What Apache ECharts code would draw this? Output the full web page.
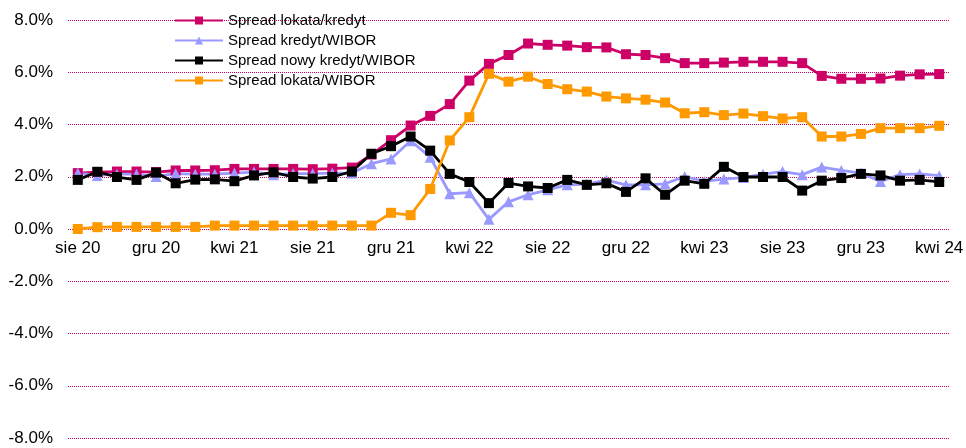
<!DOCTYPE html>
<html>
<head>
<meta charset="utf-8">
<script src="https://cdn.jsdelivr.net/npm/echarts@6/dist/echarts.min.js"></script>
<style>
	html, body { margin: 0; padding: 0; background: #fff; }
	#main { width: 966px; height: 448px; }
</style>
</head>
<body>
<div id="main"></div>
<script>
// miesiace sie 2020 - kwi 2024
var months = [
	'sie 20','wrz 20','paź 20','lis 20','gru 20',
	'sty 21','lut 21','mar 21','kwi 21','maj 21','cze 21','lip 21','sie 21','wrz 21','paź 21','lis 21','gru 21',
	'sty 22','lut 22','mar 22','kwi 22','maj 22','cze 22','lip 22','sie 22','wrz 22','paź 22','lis 22','gru 22',
	'sty 23','lut 23','mar 23','kwi 23','maj 23','cze 23','lip 23','sie 23','wrz 23','paź 23','lis 23','gru 23',
	'sty 24','lut 24','mar 24','kwi 24'
];

var names = ['Spread lokata/kredyt', 'Spread kredyt/WIBOR', 'Spread nowy kredyt/WIBOR', 'Spread lokata/WIBOR'];

var lokataKredyt = [2.14, 2.18, 2.2, 2.2, 2.18, 2.24, 2.24, 2.25, 2.3, 2.3, 2.3, 2.3, 2.29, 2.31, 2.35, 2.85, 3.4,
	3.96, 4.33, 4.78, 5.68, 6.32, 6.66, 7.1, 7.05, 7.02, 6.96, 6.95, 6.69,
	6.66, 6.54, 6.35, 6.35, 6.37, 6.4, 6.4, 6.4, 6.35, 5.86, 5.75, 5.75,
	5.76, 5.87, 5.92, 5.93];

var kredytWibor = [2.14, 2.05, 2.1, 2.1, 2.01, 2.12, 2.1, 2.1, 2.14, 2.18, 2.08, 2.12, 2.12, 2.14, 2.14, 2.5, 2.68,
	3.38, 2.75, 1.35, 1.39, 0.37, 1.04, 1.31, 1.5, 1.69, 1.72, 1.87, 1.69,
	1.69, 1.73, 2.01, 1.82, 1.91, 1.97, 2.1, 2.2, 2.08, 2.37, 2.24, 2.14,
	1.82, 2.08, 2.11, 2.04];

var nowyKredytWibor = [1.88, 2.19, 1.99, 1.88, 2.16, 1.75, 1.89, 1.9, 1.83, 2.05, 2.17, 1.99, 1.93, 1.99, 2.2, 2.88, 3.17,
	3.54, 3.0, 2.11, 1.8, 0.99, 1.76, 1.63, 1.57, 1.88, 1.69, 1.75, 1.42,
	1.94, 1.31, 1.85, 1.73, 2.38, 1.99, 1.99, 1.99, 1.47, 1.85, 1.95, 2.11,
	2.05, 1.85, 1.88, 1.8];

var lokataWibor = [0.0, 0.07, 0.08, 0.08, 0.08, 0.08, 0.08, 0.13, 0.13, 0.13, 0.13, 0.13, 0.13, 0.13, 0.13, 0.13, 0.62,
	0.53, 1.53, 3.39, 4.28, 5.94, 5.64, 5.83, 5.55, 5.35, 5.26, 5.07, 5.0,
	4.95, 4.84, 4.43, 4.47, 4.36, 4.42, 4.32, 4.23, 4.28, 3.54, 3.54, 3.64,
	3.86, 3.86, 3.86, 3.95];

var colors = ['#CC0066', '#9999FF', '#000000', '#FF9900'];

function makeSeries(name, data, color, symbol) {
	return {
		name: name,
		type: 'line',
		data: data,
		symbol: symbol,
		symbolSize: symbol == 'triangle' ? 11 : 10,
		showSymbol: true,
		lineStyle: { color: color, width: 2.8 },
		itemStyle: { color: color },
		emphasis: { disabled: true }
	};
}

var myChart = echarts.init(document.getElementById('main'));
var option = {
	animation: false,
	color: colors,
	textStyle: { fontFamily: '"Liberation Sans", Arial, sans-serif' },
	grid: { left: 68, right: 17, top: 20, bottom: 10, containLabel: false, outerBoundsMode: 'none' },
	legend: {
		orient: 'vertical',
		left: 174,
		top: 13,
		padding: 0,
		itemWidth: 48,
		itemHeight: 10,
		itemGap: 5,
		textStyle: { fontSize: 15, color: '#000' },
		data: names
	},
	xAxis: {
		type: 'category',
		data: months,
		boundaryGap: true,
		position: 'bottom',
		// etykiety przesuniete do linii 0% (polowa wysokosci siatki)
		offset: -209,
		axisLine: { show: false },
		axisTick: { show: false },
		axisLabel: { interval: 3, fontSize: 17, color: '#000', margin: 11 },
		splitLine: { show: false }
	},
	yAxis: {
		type: 'value',
		min: -8,
		max: 8,
		interval: 2,
		axisLine: { show: false },
		axisTick: { show: false },
		axisLabel: {
			fontSize: 17,
			color: '#000',
			margin: 15,
			formatter: function (v) { return v.toFixed(1) + '%'; }
		},
		splitLine: { lineStyle: { color: '#CC0066', type: [1, 1], width: 1 } }
	},
	series: [
		makeSeries(names[0], lokataKredyt, colors[0], 'rect'),
		makeSeries(names[1], kredytWibor, colors[1], 'triangle'),
		makeSeries(names[2], nowyKredytWibor, colors[2], 'rect'),
		makeSeries(names[3], lokataWibor, colors[3], 'rect')
	]
};
myChart.setOption(option);
</script>
</body>
</html>
